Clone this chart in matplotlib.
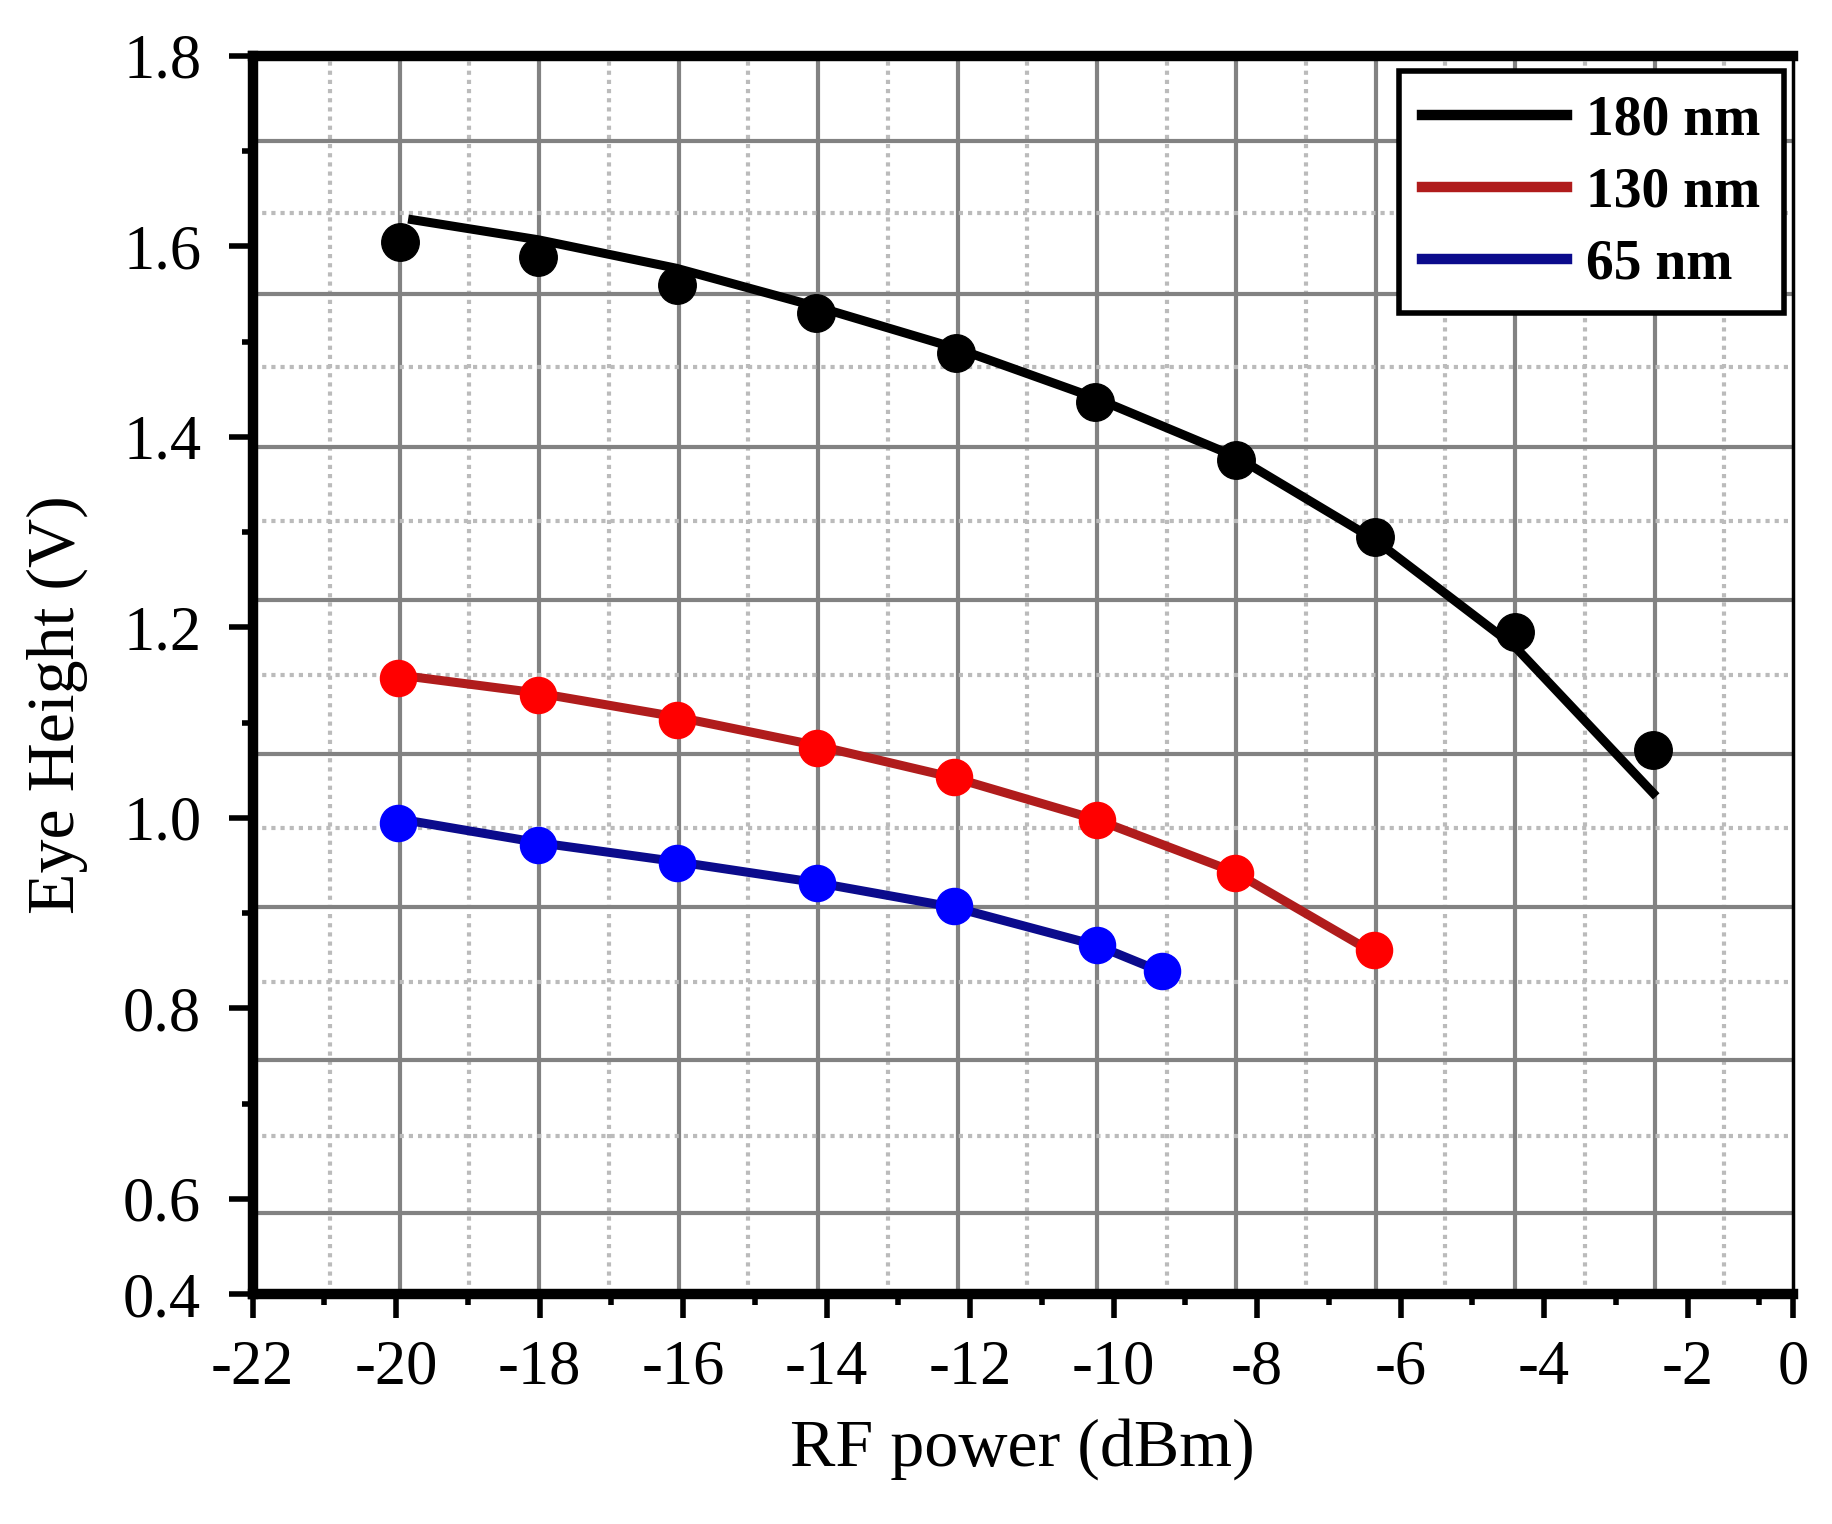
import numpy as np
import matplotlib
matplotlib.use("Agg")
import matplotlib.pyplot as plt

plt.rcParams['font.family'] = ['Liberation Serif', 'DejaVu Serif']
plt.rcParams['axes.unicode_minus'] = False

# data (axis units as drawn)
power_180 = [-19.95, -18.02, -16.09, -14.15, -12.19, -10.26, -8.29, -6.36, -4.41, -2.48]
eye_180 = [1.605, 1.589, 1.560, 1.530, 1.488, 1.437, 1.376, 1.295, 1.195, 1.071]
fit_180_x = [-19.77, -18.02, -16.09, -14.15, -12.19, -10.26, -8.29, -6.36, -4.41, -2.48]
fit_180_y = [1.628, 1.607, 1.577, 1.537, 1.493, 1.441, 1.379, 1.292, 1.180, 1.026]

power_130 = [-19.97, -18.02, -16.09, -14.14, -12.22, -10.23, -8.31, -6.37]
eye_130 = [1.147, 1.129, 1.103, 1.073, 1.043, 0.998, 0.942, 0.861]
fit_130_y = [1.150, 1.131, 1.106, 1.076, 1.042, 0.998, 0.943, 0.858]

power_65 = [-19.97, -18.02, -16.09, -14.14, -12.22, -10.23, -9.32]
eye_65 = [0.995, 0.971, 0.953, 0.932, 0.907, 0.866, 0.839]
fit_65_y = [0.999, 0.974, 0.954, 0.932, 0.906, 0.866, 0.838]

labels = ['180 nm', '130 nm', '65 nm']

xtick_vals = [-22, -20, -18, -16, -14, -12, -10, -8, -6, -4, -2, -0.53]
xtick_labels = ['-22', '-20', '-18', '-16', '-14', '-12', '-10', '-8', '-6', '-4', '-2', '0']
ytick_vals = [0.5, 0.6, 0.8, 1.0, 1.2, 1.4, 1.6, 1.8]
ytick_labels = ['0.4', '0.6', '0.8', '1.0', '1.2', '1.4', '1.6', '1.8']

fig = plt.figure(figsize=(18.33, 15.24), dpi=100)
ax = fig.add_axes([0.1378, 0.1509, 0.8404, 0.8124])
ax.set_xlim(-22, -0.53)
ax.set_ylim(0.5, 1.8)

# background grid (not aligned with the ticks in the original)
for x in np.arange(-19.946, -2.0, 1.943):
    ax.axvline(x, color='#828282', lw=3, zorder=1)
for x in np.arange(-20.92, -1.0, 1.943):
    ax.axvline(x, color='#bbbbbb', lw=3, dashes=(1.0, 1.2), zorder=1)
for y in np.arange(1.711, 0.55, -0.1609):
    ax.axhline(y, color='#828282', lw=3, zorder=1)
for y in np.arange(1.635, 0.62, -0.1615):
    ax.axhline(y, color='#bbbbbb', lw=3, dashes=(1.0, 1.2), zorder=1)

ax.plot(fit_180_x, fit_180_y, color='black', lw=6.5, label=labels[0], zorder=3)
ax.plot(power_180, eye_180, 'o', color='black', ms=27, zorder=4)
ax.plot(power_130, fit_130_y, color='#b01c1c', lw=6.5, label=labels[1], zorder=3)
ax.plot(power_130, eye_130, 'o', color='#ff0000', ms=26, zorder=4)
ax.plot(power_65, fit_65_y, color='#0b0b8c', lw=6.5, label=labels[2], zorder=3)
ax.plot(power_65, eye_65, 'o', color='#0000ff', ms=26, zorder=4)

ax.set_xticks(xtick_vals)
ax.set_xticklabels(xtick_labels)
ax.set_xticks(np.arange(-21, 0, 2), minor=True)
ax.set_yticks(ytick_vals)
ax.set_yticklabels(ytick_labels)
ax.set_yticks(np.arange(0.7, 1.75, 0.2), minor=True)

ax.tick_params(axis='both', which='major', direction='out', length=17, width=4,
               labelsize=45, color='black')
ax.tick_params(axis='both', which='minor', direction='out', length=8, width=4, color='black')
ax.tick_params(axis='x', which='major', pad=16)
ax.tick_params(axis='y', which='major', pad=20)

for s in ['left', 'bottom', 'top']:
    ax.spines[s].set_linewidth(7.5)
ax.spines['right'].set_linewidth(2.5)
for s in ax.spines.values():
    s.set_zorder(5)

ax.set_xlabel('RF power (dBm)', fontsize=49)
ax.set_ylabel('Eye Height (V)', fontsize=49)
ax.xaxis.set_label_coords(0.5, -0.1)
ax.yaxis.set_label_coords(-0.107, 0.476)

leg = ax.legend(loc='upper right', bbox_to_anchor=(0.994, 0.988), fancybox=False,
                framealpha=1, edgecolor='black', handlelength=2.6, handletextpad=0.35,
                labelspacing=0.36, borderpad=0.42, borderaxespad=0,
                prop={'size': 40, 'weight': 'bold'})
leg.get_frame().set_linewidth(4)
for h in leg.get_lines():
    h.set_linewidth(7.5)
leg.set_zorder(6)

fig.savefig('out.png', dpi=100)
